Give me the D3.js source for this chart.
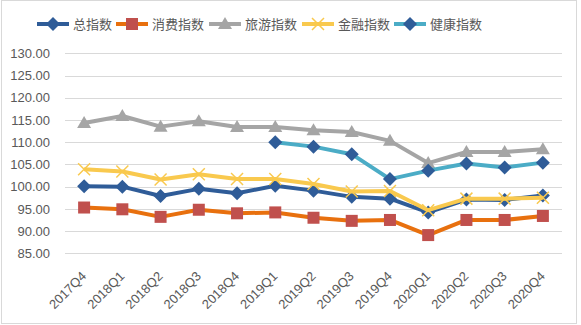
<!DOCTYPE html>
<html>
<head>
<meta charset="utf-8">
<script src="https://cdn.jsdelivr.net/npm/d3@7"></script>
<style>
  body { margin: 0; background: #fff; }
  svg { display: block; font-family: "Liberation Sans", Arial, sans-serif; }
</style>
</head>
<body>
<svg id="chart" width="581" height="325"></svg>
<script>
var quarters = ["2017Q4", "2018Q1", "2018Q2", "2018Q3", "2018Q4", "2019Q1", "2019Q2",
                "2019Q3", "2019Q4", "2020Q1", "2020Q2", "2020Q3", "2020Q4"];
var totalIdx   = [100.1, 100.0, 97.9, 99.5, 98.5, 100.2, 99.1, 97.7, 97.3, 94.2, 97.1, 97.0, 98.0];
var consumeIdx = [95.3, 94.9, 93.2, 94.8, 94.0, 94.2, 93.0, 92.3, 92.5, 89.1, 92.5, 92.5, 93.4];
var travelIdx  = [114.3, 115.9, 113.5, 114.7, 113.4, 113.4, 112.7, 112.3, 110.3, 105.3, 107.8, 107.8, 108.4];
var financeIdx = [103.9, 103.4, 101.6, 102.8, 101.7, 101.7, 100.6, 98.9, 99.0, 94.7, 97.3, 97.3, 97.5];
var healthIdx  = [null, null, null, null, null, 110.0, 109.0, 107.3, 101.7, 103.6, 105.2, 104.3, 105.4];
var yTicks = [85, 90, 95, 100, 105, 110, 115, 120, 125, 130];

var series = [
    { name: "总指数",   values: totalIdx,   line: "#2F5C98", marker: "diamond",  fill: "#2F5C98" },
    { name: "消费指数", values: consumeIdx, line: "#E8700E", marker: "square",   fill: "#C0504D" },
    { name: "旅游指数", values: travelIdx,  line: "#A5A5A5", marker: "triangle", fill: "#A5A5A5" },
    { name: "金融指数", values: financeIdx, line: "#F9C94E", marker: "cross",    fill: "#F9C94E" },
    { name: "健康指数", values: healthIdx,  line: "#4BACC6", marker: "diamond",  fill: "#2F5C98" }
];

var svg = d3.select("#chart");

// outer frame
svg.append("rect")
    .attr("x", 1.5).attr("y", 0.5)
    .attr("width", 575).attr("height", 323)
    .attr("fill", "#fff").attr("stroke", "#D9D9D9");

var plotLeft = 65, plotRight = 562, plotTop = 53.3, plotBottom = 253.3;

var x = d3.scaleBand().domain(quarters).range([plotLeft, plotRight]);
var y = d3.scaleLinear().domain([85, 130]).range([plotBottom, plotTop]);
var cx = function(i) { return x(quarters[i]) + x.bandwidth() / 2; };

// gridlines
svg.append("g").selectAll("line")
    .data(yTicks).enter()
    .append("line")
    .attr("x1", plotLeft).attr("x2", plotRight)
    .attr("y1", function(d) { return Math.round(y(d)) + 0.5; })
    .attr("y2", function(d) { return Math.round(y(d)) + 0.5; })
    .attr("stroke", "#D9D9D9");

// y axis labels
var yAxis = svg.append("g")
    .attr("transform", "translate(" + (plotLeft - 12) + ",0)")
    .call(d3.axisLeft(y).tickValues(yTicks).tickSize(0).tickFormat(d3.format(".2f")));
yAxis.select(".domain").remove();
yAxis.selectAll("text")
    .attr("fill", "#595959")
    .style("font-size", "13px")
    .style("font-family", "Liberation Sans, Arial, sans-serif");

// x axis labels, rotated
svg.append("g").selectAll("text")
    .data(quarters).enter()
    .append("text")
    .attr("transform", function(d, i) { return "translate(" + (cx(i) + 3) + ",277) rotate(-45)"; })
    .attr("text-anchor", "end")
    .attr("fill", "#595959")
    .style("font-size", "13px")
    .text(function(d) { return d; });

function drawMarker(g, type, fill, px, py) {
    if (type == "diamond") {
        g.append("path")
            .attr("d", "M" + px + "," + (py - 7) + "L" + (px + 7) + "," + py + "L" + px + "," + (py + 7) + "L" + (px - 7) + "," + py + "Z")
            .attr("fill", fill);
    } else if (type == "square") {
        g.append("rect")
            .attr("x", px - 6).attr("y", py - 6)
            .attr("width", 12).attr("height", 12)
            .attr("fill", fill);
    } else if (type == "triangle") {
        g.append("path")
            .attr("d", "M" + px + "," + (py - 7) + "L" + (px + 7) + "," + (py + 5) + "L" + (px - 7) + "," + (py + 5) + "Z")
            .attr("fill", fill);
    } else if (type == "cross") {
        g.append("path")
            .attr("d", "M" + (px - 6) + "," + (py - 6) + "L" + (px + 6) + "," + (py + 6) +
                       "M" + (px + 6) + "," + (py - 6) + "L" + (px - 6) + "," + (py + 6))
            .attr("stroke", fill).attr("stroke-width", 1.5).attr("fill", "none");
    }
}

var line = d3.line()
    .defined(function(d) { return d != null; })
    .x(function(d, i) { return cx(i); })
    .y(function(d) { return y(d); });

series.forEach(function(s) {
    var g = svg.append("g");
    g.append("path")
        .datum(s.values)
        .attr("d", line)
        .attr("fill", "none")
        .attr("stroke", s.line)
        .attr("stroke-width", 4)
        .attr("stroke-linejoin", "round");
    s.values.forEach(function(v, i) {
        if (v != null) drawMarker(g, s.marker, s.fill, cx(i), y(v));
    });
});

// legend
var legendX = [37, 116, 209, 302, 394];
series.forEach(function(s, i) {
    var g = svg.append("g").attr("transform", "translate(" + legendX[i] + ",24)");
    g.append("line")
        .attr("x1", 0).attr("x2", 32)
        .attr("stroke", s.line).attr("stroke-width", 4);
    drawMarker(g, s.marker, s.fill, 16, 0);
    g.append("text")
        .attr("x", 36).attr("y", 5)
        .attr("fill", "#595959")
        .style("font-size", "13px")
        .style("font-family", "Noto Sans CJK SC, sans-serif")
        .text(s.name);
});
</script>
</body>
</html>
